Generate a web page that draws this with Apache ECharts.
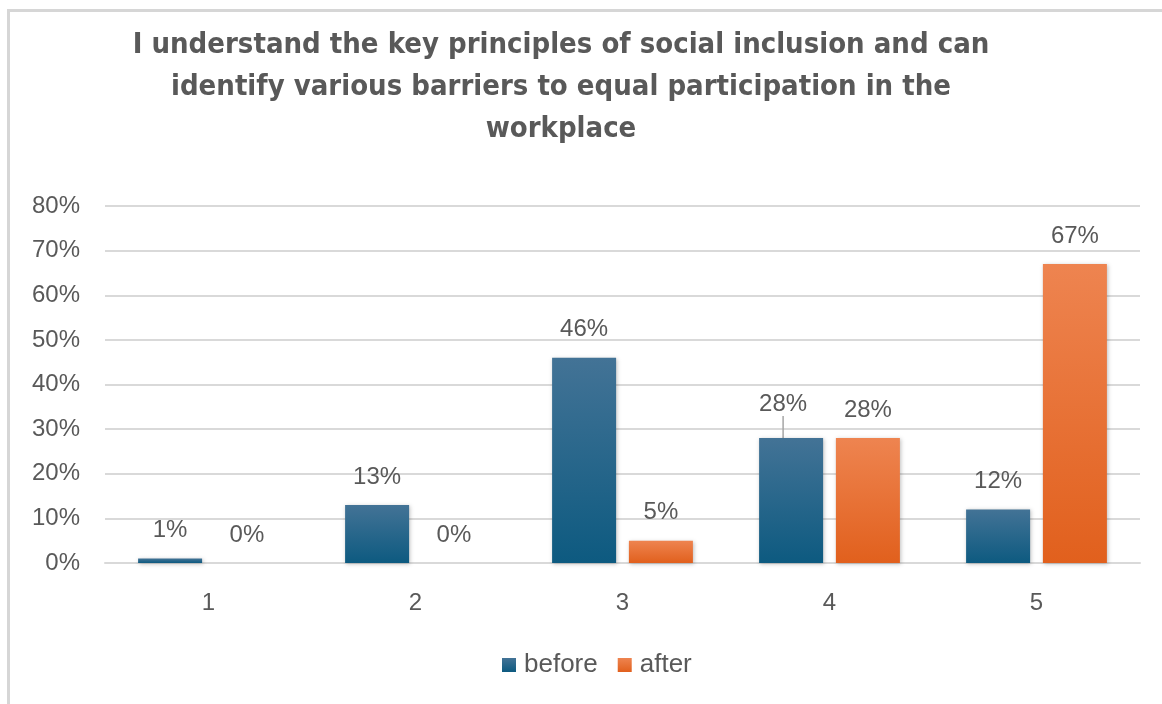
<!DOCTYPE html>
<html>
<head>
<meta charset="utf-8">
<script src="https://cdn.jsdelivr.net/npm/echarts@6/dist/echarts.min.js"></script>
<style>
  html, body { margin: 0; padding: 0; background: #ffffff; }
  #chart { width: 1162px; height: 704px; }
</style>
</head>
<body>
<div id="chart"></div>
<script>
// Survey responses (Likert scale 1–5), share of respondents in percent
const categories = ['1', '2', '3', '4', '5'];
const beforeValues = [1, 13, 46, 28, 12];
const afterValues = [0, 0, 5, 28, 67];
const seriesNames = ['before', 'after'];
const titleText = 'I understand the key principles of social inclusion and can\nidentify various barriers to equal participation in the\nworkplace';

const textColor = '#595959';
const gridColor = '#d9d9d9';
const baseFont = '"Liberation Sans", Arial, sans-serif';

function vGrad(top, bottom) {
  return new echarts.graphic.LinearGradient(0, 0, 0, 1, [
    { offset: 0, color: top },
    { offset: 1, color: bottom }
  ]);
}

const beforeColor = vGrad('#437396', '#0d5a80');
const afterColor = vGrad('#ee8450', '#e1601d');

const labelStyle = {
  show: true,
  position: 'top',
  distance: 16,
  formatter: p => p.value + '%',
  color: textColor,
  fontSize: 24,
  fontFamily: baseFont
};

const barShadow = {
  shadowBlur: 4,
  shadowOffsetX: 1,
  shadowOffsetY: 1,
  shadowColor: 'rgba(0,0,0,0.25)'
};

const chart = echarts.init(document.getElementById('chart'), null, { renderer: 'canvas' });

chart.setOption({
  backgroundColor: '#ffffff',
  animation: false,
  graphic: [{
    type: 'rect',
    shape: { x: 8.5, y: 10.5, width: 1300, height: 800 },
    style: { fill: null, stroke: '#d6d6d6', lineWidth: 3 },
    silent: true
  }],
  title: {
    text: titleText,
    left: 556,
    top: 19,
    textAlign: 'center',
    textStyle: {
      color: textColor,
      fontSize: 29,
      fontWeight: 'bold',
      lineHeight: 42,
      fontFamily: '"Liberation Sans Narrow", "DejaVu Sans Condensed", sans-serif'
    }
  },
  legend: {
    data: seriesNames,
    bottom: 21,
    left: 497,
    itemWidth: 14,
    itemHeight: 14,
    itemGap: 20,
    icon: 'rect',
    textStyle: { color: textColor, fontSize: 26, fontFamily: baseFont, padding: [0, 0, 0, 3] }
  },
  grid: {
    left: 105,
    right: 22,
    top: 206,
    bottom: 141,
    containLabel: false
  },
  xAxis: {
    type: 'category',
    data: categories,
    axisLine: { show: true, lineStyle: { color: gridColor, width: 2 } },
    axisTick: { show: false },
    axisLabel: { color: textColor, fontSize: 24, fontFamily: baseFont, margin: 28 }
  },
  yAxis: {
    type: 'value',
    min: 0,
    max: 80,
    interval: 10,
    axisLine: { show: false },
    axisTick: { show: false },
    splitLine: { lineStyle: { color: gridColor, width: 2 } },
    axisLabel: {
      color: textColor,
      fontSize: 24,
      fontFamily: baseFont,
      margin: 25,
      formatter: v => v + '%'
    }
  },
  series: [
    {
      name: seriesNames[0],
      type: 'bar',
      data: beforeValues.map((v, i) => i === 3
        ? { value: v, labelLine: { show: true, lineStyle: { color: '#a6a6a6', width: 1.5 } } }
        : v),
      barWidth: 64,
      barGap: '20%',
      itemStyle: Object.assign({ color: beforeColor }, barShadow),
      label: labelStyle,
      labelLayout: p => (p.dataIndex === 3 ? { dx: -8, dy: -6 } : {})
    },
    {
      name: seriesNames[1],
      type: 'bar',
      data: afterValues,
      barWidth: 64,
      barGap: '20%',
      itemStyle: Object.assign({ color: afterColor }, barShadow),
      label: labelStyle
    }
  ]
});
</script>
</body>
</html>
